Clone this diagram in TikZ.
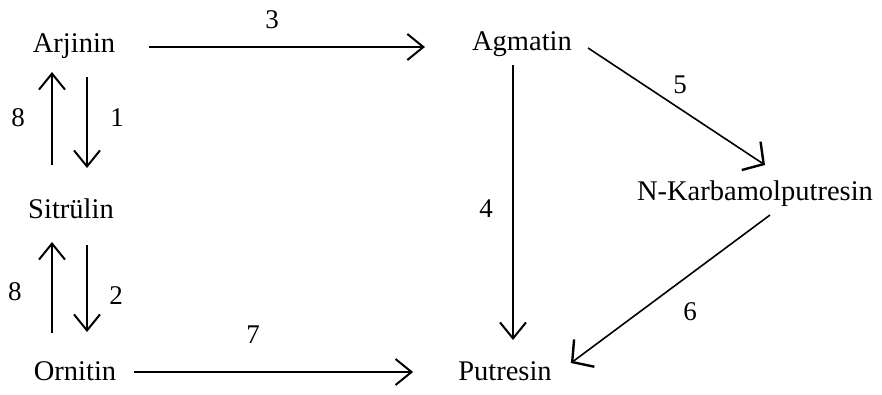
\documentclass[tikz,border=0pt]{standalone}
\usepackage{fontspec}
\setmainfont{Liberation Serif}
\usetikzlibrary{arrows.meta}
\begin{document}
\begin{tikzpicture}[x=1pt,y=1pt,
  txt/.style={inner sep=0pt, anchor=base, font=\fontsize{28.5}{32}\selectfont},
  num/.style={inner sep=0pt, anchor=center, font=\fontsize{27}{32}\selectfont},
  arr/.style={line width=2.2pt, -{Straight Barb[length=16pt,width=26pt,line width=2pt]}},
  thin arr/.style={line width=1.6pt, -{Straight Barb[length=15pt,width=34pt,line width=2.4pt]}}]
\path[use as bounding box, fill=white] (0,0) rectangle (882,-394);
% nodes
\node[txt] (arj) at (74,-52) {Arjinin};
\node[txt] (sit) at (71,-218) {Sitrülin};
\node[txt] (orn) at (75,-380) {Ornitin};
\node[txt] (agm) at (522,-50) {Agmatin};
\node[txt] (nk)  at (755,-200) {N-Karbamolputresin};
\node[txt] (put) at (505,-380) {Putresin};
% connectors
\draw[arr] ([xshift=34pt,yshift=5pt]arj.base east) -- ([xshift=-47pt,yshift=3pt]agm.base west);
\draw[arr] ([xshift=18pt,yshift=8pt]orn.base east) -- ([xshift=-45pt,yshift=8pt]put.base west);
\draw[arr] ([xshift=-19pt,yshift=53pt]sit.base) -- ([xshift=-22pt,yshift=-20pt]arj.base);
\draw[arr] ([xshift=13pt,yshift=-25pt]arj.base) -- ([xshift=16pt,yshift=50pt]sit.base);
\draw[arr] ([xshift=-23pt,yshift=47pt]orn.base) -- ([xshift=-19pt,yshift=-24pt]sit.base);
\draw[arr] ([xshift=16pt,yshift=-27pt]sit.base) -- ([xshift=12pt,yshift=48pt]orn.base);
\draw[arr] ([xshift=-9pt,yshift=-15pt]agm.base) -- ([xshift=8pt,yshift=40pt]put.base);
\draw[thin arr] ([xshift=16pt,yshift=2pt]agm.base east) -- ([xshift=10pt,yshift=35pt]nk.base);
\draw[thin arr] ([xshift=15pt,yshift=-15pt]nk.base) -- ([xshift=19pt,yshift=17pt]put.base east);
% labels
\node[num] (l3) at (272,-20) {3};
\node[num] (l5) at (680,-85) {5};
\node[num] (l4) at (486,-209) {4};
\node[num] (l6) at (690,-312) {6};
\node[num] (l7) at (253,-335) {7};
\node[num] (l8a) at (18,-118) {8};
\node[num] (l1) at (117,-118) {1};
\node[num] (l8b) at (15,-292) {8};
\node[num] (l2) at (116,-296) {2};
\end{tikzpicture}
\end{document}
